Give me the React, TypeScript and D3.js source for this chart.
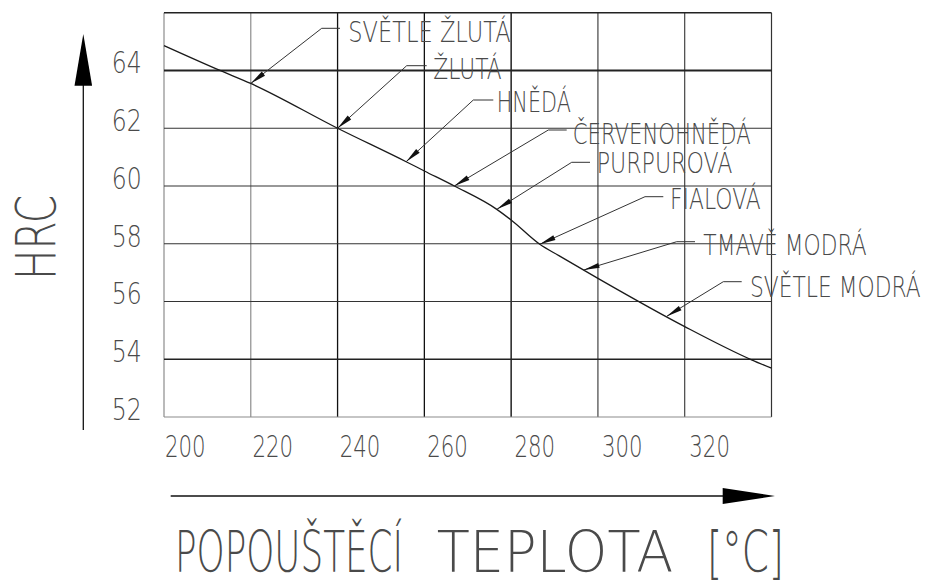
import React from 'react';
import * as d3 from 'd3';

// Hardness after tempering vs. tempering temperature
const tempC = [200, 212.9, 220, 240, 255.8, 260, 266.9, 276.7, 280, 286.6, 291.2, 300, 320, 335.4, 340];
const hrc = [64.86, 64.0, 63.55, 62.0, 60.84, 60.52, 60.0, 59.19, 58.82, 57.98, 57.57, 56.8, 55.13, 53.98, 53.69];

const xTicks = [200, 220, 240, 260, 280, 300, 320];
const xGrid = [200, 220, 240, 260, 280, 300, 320, 340];
const yTicks = [52, 54, 56, 58, 60, 62, 64];
const yGrid = [52, 54, 56, 58, 60, 62, 64, 66];

// Temper (oxide) colours and the temperature each one points at
const colourNames = ['SVĚTLE ŽLUTÁ', 'ŽLUTÁ', 'HNĚDÁ', 'ČERVENOHNĚDÁ', 'PURPUROVÁ', 'FIALOVÁ', 'TMAVĚ MODRÁ', 'SVĚTLE MODRÁ'];
const colourTemps = [220, 240, 255.8, 266.9, 276.7, 286.6, 296.7, 315.8];

// Placement of each leader: elbow, end of the short horizontal, text start, baseline, text width
const labelLayout = [
  { ex: 321.7, ey: 28.3, hx: 340, tx: 348.3, ty: 42.3, w: 162.4 },
  { ex: 406.7, ey: 65.7, hx: 426.7, tx: 433.3, ty: 79, w: 68.4 },
  { ex: 473.3, ey: 100, hx: 493.3, tx: 496.7, ty: 112.3, w: 74.3 },
  { ex: 548.3, ey: 130, hx: 566.7, tx: 572.7, ty: 144, w: 178 },
  { ex: 571.7, ey: 162.3, hx: 590, tx: 596.7, ty: 173.3, w: 135.6 },
  { ex: 645, ey: 196.7, hx: 663.3, tx: 670, ty: 209.3, w: 90.7 },
  { ex: 676.7, ey: 241.7, hx: 695, tx: 703.3, ty: 255, w: 163.4 },
  { ex: 723.3, ey: 281.7, hx: 741.7, tx: 750, ty: 296.7, w: 170.7 },
];

const W = 926;
const H = 581;
const FONT = "'DejaVu Sans', Roboto, sans-serif";
const TEXT = '#4a4a4a';

const x = d3.scaleLinear().domain([200, 340]).range([164, 771.5]);
const y = d3.scaleLinear().domain([52, 66]).range([417, 12.7]);
const hrcAt = d3.scaleLinear().domain(tempC).range(hrc);

const vStyle: Record<number, [string, number]> = {
  200: ['#8c8c8c', 1.2], 220: ['#8c8c8c', 1.2], 240: ['#111', 1.3], 260: ['#111', 1.3],
  280: ['#111', 1.4], 300: ['#333', 1.1], 320: ['#333', 1.1], 340: ['#333', 1.2],
};
const hStyle: Record<number, [string, number]> = {
  52: ['#8c8c8c', 1.2], 54: ['#222', 1.7], 56: ['#333', 1.1], 58: ['#333', 1.1],
  60: ['#333', 1.1], 62: ['#333', 1.1], 64: ['#222', 1.9], 66: ['#222', 1.4],
};

function Label(props: { x: number; y: number; size: number; len: number; children: string }) {
  return (
    <text
      x={props.x}
      y={props.y}
      fontSize={props.size}
      fontFamily={FONT}
      fontWeight={200}
      fill={TEXT}
      textLength={props.len}
      lengthAdjust="spacingAndGlyphs"
    >
      {props.children}
    </text>
  );
}

export default function App() {
  const line = d3
    .line<number>()
    .x((_, i) => x(tempC[i]))
    .y((d) => y(d))
    .curve(d3.curveMonotoneX);

  const leaders = colourNames.map((name, i) => {
    const L = labelLayout[i];
    const px = x(colourTemps[i]);
    const py = y(hrcAt(colourTemps[i]));
    const dx = L.ex - px;
    const dy = L.ey - py;
    const len = Math.hypot(dx, dy);
    const ux = dx / len;
    const uy = dy / len;
    const bx = px + ux * 16;
    const by = py + uy * 16;
    const nx = -uy * 2.6;
    const ny = ux * 2.6;
    return (
      <g key={name}>
        <polyline
          points={`${px},${py} ${L.ex},${L.ey} ${L.hx},${L.ey}`}
          fill="none"
          stroke="#333"
          strokeWidth={1}
        />
        <polygon points={`${px},${py} ${bx + nx},${by + ny} ${bx - nx},${by - ny}`} fill="#111" />
        <Label x={L.tx} y={L.ty} size={28} len={L.w}>
          {name}
        </Label>
      </g>
    );
  });

  return (
    <svg
      width={W}
      height={H}
      viewBox={`0 0 ${W} ${H}`}
      style={{ position: 'absolute', left: 0, top: 0, background: '#fff' }}
    >
      <rect x={0} y={0} width={W} height={H} fill="#fff" />

      {/* grid */}
      {xGrid.map((t) => (
        <line key={'v' + t} x1={x(t)} x2={x(t)} y1={y(52)} y2={y(66)} stroke={vStyle[t][0]} strokeWidth={vStyle[t][1]} />
      ))}
      {yGrid.map((h) => (
        <line key={'h' + h} x1={x(200)} x2={x(340)} y1={y(h)} y2={y(h)} stroke={hStyle[h][0]} strokeWidth={hStyle[h][1]} />
      ))}

      {/* tick labels */}
      {xTicks.map((t) => (
        <Label key={'xt' + t} x={x(t) + 1 + (t - 200) * 0.03} y={456.7} size={30} len={40.6}>
          {String(t)}
        </Label>
      ))}
      {yTicks.map((h) => (
        <Label key={'yt' + h} x={111.7} y={y(h) + 3} size={30} len={30}>
          {String(h)}
        </Label>
      ))}

      {/* hardness curve */}
      <path d={line(hrc) || ''} fill="none" stroke="#1a1a1a" strokeWidth={1.3} />

      {leaders}

      {/* vertical axis arrow and label */}
      <line x1={83.3} x2={83.3} y1={430} y2={80} stroke="#111" strokeWidth={1.3} />
      <polygon points="83.3,34 74.5,85.7 92.1,85.7" fill="#000" />
      <g transform="translate(55,280) rotate(-90)">
        <Label x={0} y={0} size={56} len={85}>
          HRC
        </Label>
      </g>

      {/* horizontal axis arrow and title */}
      <line x1={170.7} x2={730} y1={496} y2={496} stroke="#111" strokeWidth={1.3} />
      <polygon points="775,496 722.7,488 722.7,504" fill="#000" />
      <Label x={175} y={571.5} size={57} len={228}>
        POPOUŠTĚCÍ
      </Label>
      <Label x={436.7} y={571.5} size={57} len={236.6}>
        TEPLOTA
      </Label>
      <Label x={707} y={571.5} size={57} len={77}>
        [°C]
      </Label>
    </svg>
  );
}
